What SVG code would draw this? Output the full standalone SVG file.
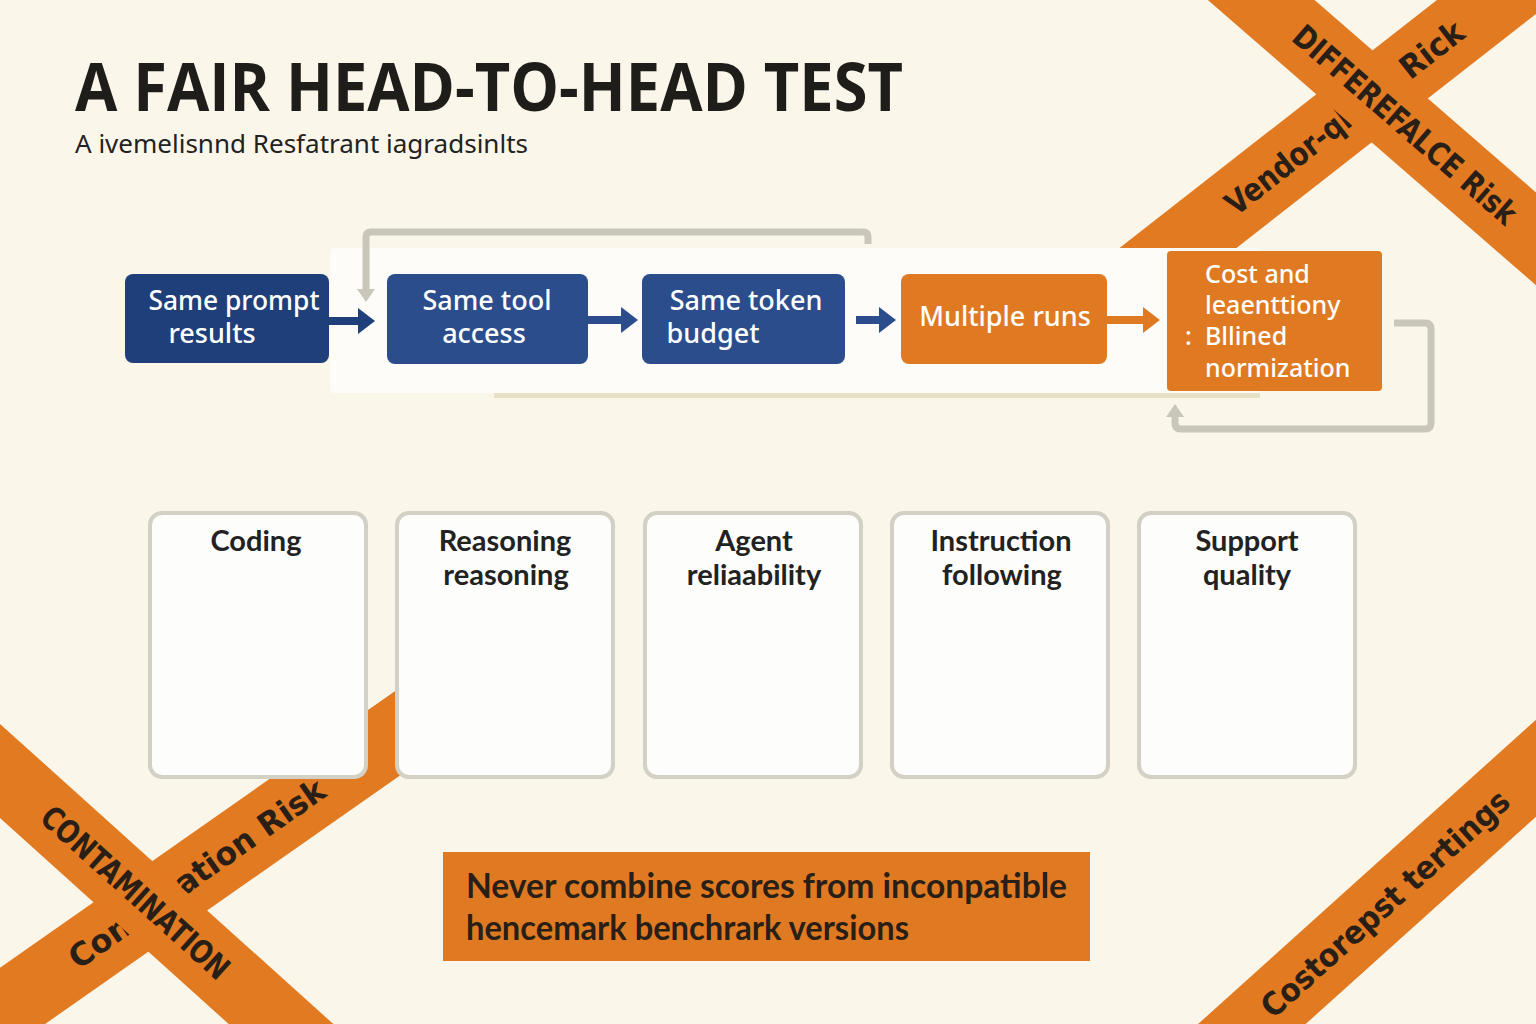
<svg xmlns="http://www.w3.org/2000/svg" width="1536" height="1024" viewBox="0 0 1536 1024">
<defs>
<style>
.band{fill:#e27a22}
.bandtxt{font-family:"DejaVu Sans",sans-serif;font-weight:bold;font-size:32px;fill:#2a1f16;text-anchor:middle}
.node-navy{fill:#1f3f7b}
.node-blue{fill:#2b4d8c}
.node-orange{fill:#e07a22}
.ntxt{font-family:"Noto Sans",sans-serif;font-weight:500;font-size:27px;fill:#ffffff}
.ntxt5{font-family:"Noto Sans",sans-serif;font-weight:500;font-size:25px;fill:#ffffff}
.card{fill:#fdfdfb;stroke:#d3d0c5;stroke-width:4}
.ctxt{font-family:Lato,sans-serif;font-weight:bold;font-size:29px;fill:#222222;text-anchor:middle}
.btxt{font-family:Lato,sans-serif;font-weight:bold;font-size:34px;fill:#2a1f16}
.gray{fill:none;stroke:#c9c6ba;stroke-width:7;stroke-linejoin:round}
</style>
<marker id="hNavy" markerUnits="userSpaceOnUse" markerWidth="18" markerHeight="26" refX="0" refY="13" orient="auto"><path d="M0,0 L17,13 L0,26 Z" fill="#1f3f7b"/></marker>
<marker id="hBlue" markerUnits="userSpaceOnUse" markerWidth="18" markerHeight="26" refX="0" refY="13" orient="auto"><path d="M0,0 L17,13 L0,26 Z" fill="#2b4d8c"/></marker>
<marker id="hOrange" markerUnits="userSpaceOnUse" markerWidth="18" markerHeight="26" refX="0" refY="13" orient="auto"><path d="M0,0 L17,13 L0,26 Z" fill="#e07a22"/></marker>
<marker id="hGray" markerUnits="userSpaceOnUse" markerWidth="14" markerHeight="18" refX="0" refY="9" orient="auto"><path d="M0,0 L13,9 L0,18 Z" fill="#c9c6ba"/></marker>
</defs>
<rect x="0" y="0" width="1536" height="1024" fill="#fbf6ea"/>

<g id="tape-top-right">
<g transform="translate(1178,248) rotate(-38)">
<rect class="band" x="-60" y="-36" width="760" height="72"/>
<text class="bandtxt" x="140" y="11" textLength="150" lengthAdjust="spacingAndGlyphs">Vendor-ql</text>
<text class="bandtxt" x="322" y="11" textLength="72" lengthAdjust="spacingAndGlyphs">Rick</text>
</g>
<g transform="translate(1405,125) rotate(41)">
<rect class="band" x="-450" y="-35" width="900" height="70"/>
<text class="bandtxt" x="0" y="11" textLength="285" lengthAdjust="spacingAndGlyphs">DIFFEREFALCE Risk</text>
</g>
</g>

<g id="tape-bottom-left">
<g transform="translate(208,866) rotate(-35)">
<rect class="band" x="-360" y="-36" width="690" height="72"/>
<text class="bandtxt" x="-132" y="11" textLength="68" lengthAdjust="spacingAndGlyphs">Con</text>
<text class="bandtxt" x="51" y="11" textLength="176" lengthAdjust="spacingAndGlyphs">ation Risk</text>
</g>
<g transform="translate(0,771) rotate(42)">
<rect class="band" x="-100" y="-35" width="700" height="70"/>
<text class="bandtxt" x="182" y="11" textLength="241" lengthAdjust="spacingAndGlyphs">CONTAMINATION</text>
</g>
</g>

<g id="tape-bottom-right">
<g transform="translate(1253,1023) rotate(-42)">
<rect class="band" x="-60" y="-36" width="560" height="72"/>
<text class="bandtxt" x="178" y="11" textLength="322" lengthAdjust="spacingAndGlyphs">Costorepst tertings</text>
</g>
</g>

<g id="title">
<text x="75" y="111" font-family="'Open Sans',sans-serif" font-weight="bold" font-size="66" fill="#1f1d1a" textLength="828" lengthAdjust="spacingAndGlyphs">A FAIR HEAD-TO-HEAD TEST</text>
<text x="75" y="153" font-family="'Noto Sans',sans-serif" font-size="26" fill="#222222" textLength="453" lengthAdjust="spacingAndGlyphs">A ivemelisnnd Resfatrant iagradsinlts</text>
</g>

<g id="flow-panel">
<rect x="494" y="393" width="766" height="5" fill="#e8e0c6"/>
<rect x="330" y="248" width="930" height="145" rx="4" fill="#fdfcf8"/>
</g>

<g id="connectors">
<path class="gray" d="M868,244 V237 Q868,232 863,232 H371 Q366,232 366,237 V289" marker-end="url(#hGray)"/>
<path class="gray" d="M1394,323 H1425 Q1431,323 1431,329 V423 Q1431,429 1425,429 H1181 Q1175,429 1175,423 V417" marker-end="url(#hGray)"/>
<line x1="329" y1="321" x2="358" y2="321" stroke="#1f3f7b" stroke-width="8" marker-end="url(#hNavy)"/>
<line x1="588" y1="320" x2="621" y2="320" stroke="#2b4d8c" stroke-width="8" marker-end="url(#hBlue)"/>
<line x1="856" y1="320" x2="879" y2="320" stroke="#2b4d8c" stroke-width="8" marker-end="url(#hBlue)"/>
<line x1="1107" y1="320" x2="1143" y2="320" stroke="#e07a22" stroke-width="8" marker-end="url(#hOrange)"/>
</g>

<g id="node-same-prompt">
<rect class="node-navy" x="125" y="274" width="204" height="89" rx="8"/>
<text class="ntxt" x="234" y="310" text-anchor="middle" textLength="171" lengthAdjust="spacingAndGlyphs">Same prompt</text>
<text class="ntxt" x="212" y="343" text-anchor="middle">results</text>
</g>
<g id="node-same-tool">
<rect class="node-blue" x="387" y="274" width="201" height="90" rx="8"/>
<text class="ntxt" x="487" y="310" text-anchor="middle">Same tool</text>
<text class="ntxt" x="484" y="343" text-anchor="middle">access</text>
</g>
<g id="node-same-token">
<rect class="node-blue" x="642" y="274" width="203" height="90" rx="8"/>
<text class="ntxt" x="746" y="310" text-anchor="middle">Same token</text>
<text class="ntxt" x="713" y="343" text-anchor="middle">budget</text>
</g>
<g id="node-multiple-runs">
<rect class="node-orange" x="901" y="274" width="206" height="90" rx="8"/>
<text class="ntxt" x="1005" y="326" text-anchor="middle">Multiple runs</text>
</g>
<g id="node-cost">
<rect class="node-orange" x="1167" y="251" width="215" height="140" rx="4"/>
<text class="ntxt5" x="1205" y="283">Cost and</text>
<text class="ntxt5" x="1205" y="314">leaenttiony</text>
<text class="ntxt5" x="1185" y="345" font-weight="bold">:</text>
<text class="ntxt5" x="1205" y="345">Bllined</text>
<text class="ntxt5" x="1205" y="377">normization</text>
</g>

<g id="card-coding">
<rect class="card" x="150" y="513" width="216" height="264" rx="12"/>
<text class="ctxt" x="256" y="551">Coding</text>
</g>
<g id="card-reasoning">
<rect class="card" x="397" y="513" width="216" height="264" rx="12"/>
<text class="ctxt" x="505" y="551">Reasoning</text>
<text class="ctxt" x="506" y="585">reasoning</text>
</g>
<g id="card-agent">
<rect class="card" x="645" y="513" width="216" height="264" rx="12"/>
<text class="ctxt" x="754" y="551">Agent</text>
<text class="ctxt" x="754" y="585">reliaability</text>
</g>
<g id="card-instruction">
<rect class="card" x="892" y="513" width="216" height="264" rx="12"/>
<text class="ctxt" x="1001" y="551">Instruction</text>
<text class="ctxt" x="1002" y="585">following</text>
</g>
<g id="card-support">
<rect class="card" x="1139" y="513" width="216" height="264" rx="12"/>
<text class="ctxt" x="1247" y="551">Support</text>
<text class="ctxt" x="1247" y="585">quality</text>
</g>

<g id="warning-banner">
<rect x="443" y="852" width="647" height="109" fill="#e07a22"/>
<text class="btxt" x="466" y="898" textLength="601" lengthAdjust="spacingAndGlyphs">Never combine scores from inconpatible</text>
<text class="btxt" x="466" y="940" textLength="443" lengthAdjust="spacingAndGlyphs">hencemark benchrark versions</text>
</g>
</svg>
